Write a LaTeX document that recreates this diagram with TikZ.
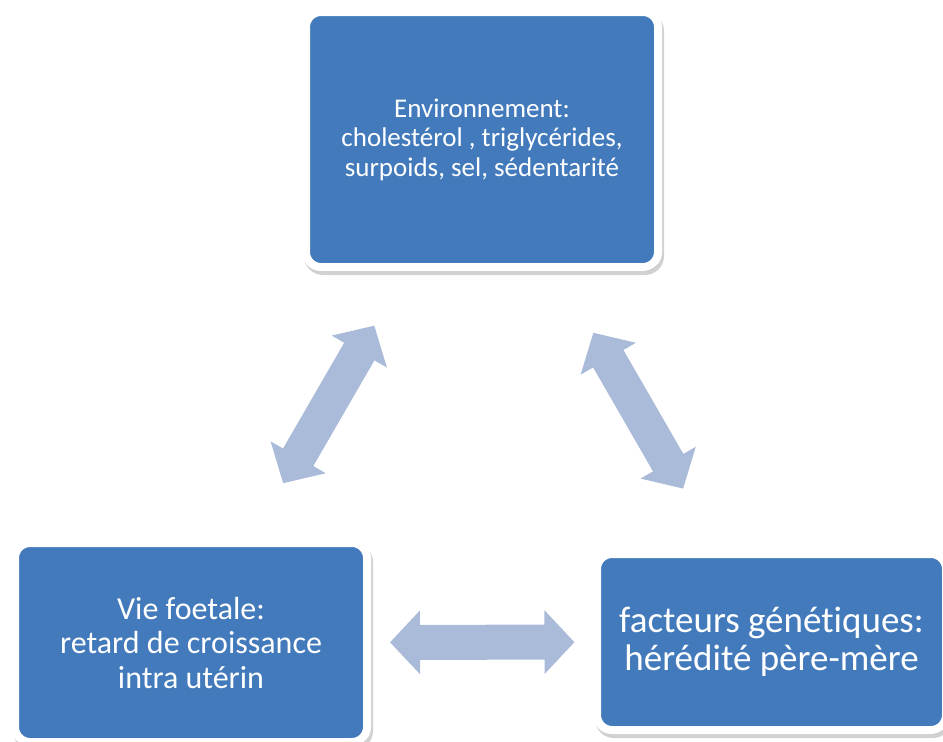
\documentclass[tikz,border=0pt]{standalone}
\usepackage{fontspec}
\setmainfont{Carlito}[Ligatures=NoCommon]
\usetikzlibrary{arrows.meta,shadows}
\definecolor{boxblue}{RGB}{66,122,187}
\definecolor{arrowblue}{RGB}{170,187,217}

\begin{document}
\begin{tikzpicture}[x=1pt,y=-1pt,
  box/.style={draw=white, line width=8pt, fill=boxblue, rounded corners=15pt, text=white, align=center,
    drop shadow={shadow xshift=2pt, shadow yshift=-4pt, opacity=0.3, fill=black!60, draw=black!60}},
  dbl/.style={line width=35pt, arrowblue, {Triangle[length=30pt,width=62pt]}-{Triangle[length=30pt,width=62pt]}}]
\useasboundingbox (0,0) rectangle (943,742);

\node[box, minimum width=352pt, minimum height=255pt, font=\fontsize{27}{29.5}\selectfont] (env) at (482,139.5)
  {Environnement:\\cholestérol , triglycérides,\\surpoids, sel, sédentarité};
\node[box, minimum width=352pt, minimum height=199pt, font=\fontsize{32}{34.5}\selectfont] (foet) at (191,642.5)
  {Vie foetale:\\retard de croissance\\intra utérin};
\node[box, minimum width=349pt, minimum height=176pt, font=\fontsize{37}{38}\selectfont] (gen) at (771.5,642)
  {facteurs génétiques:\\hérédité père-mère};

\draw[dbl, shorten <=184pt, shorten >=215pt] (foet.center)--(env.center);
\draw[dbl, shorten <=223pt, shorten >=177pt] (env.center)--(gen.center);
\draw[dbl, shorten <=199pt, shorten >=197pt] (foet.center)--(gen.center);

\end{tikzpicture}
\end{document}
